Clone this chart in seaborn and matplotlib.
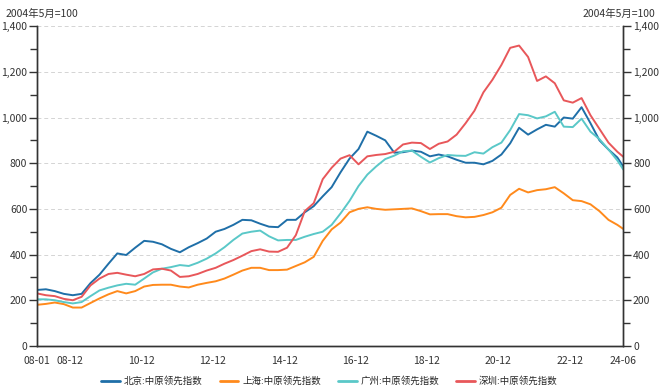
import pandas as pd
import numpy as np
import matplotlib
matplotlib.use("Agg")
import matplotlib.pyplot as plt
import matplotlib.dates as mdates
from matplotlib.ticker import FuncFormatter, MultipleLocator
import seaborn as sns

# quarterly readings, 2008-01 .. 2024-04, plus last point 2024-06
dates = list(pd.date_range("2008-01-01", "2024-04-01", freq="3MS")) + [pd.Timestamp("2024-06-01")]

beijing = [245, 248, 240, 228, 222, 228, 275, 312, 360, 405, 398, 430,
           460, 456, 445, 425, 410, 432, 450, 470, 500, 512, 530, 552,
           550, 535, 522, 520, 552, 552, 585, 612, 655, 695, 760, 820,
           862, 938, 920, 900, 846, 848, 855, 850, 830, 838, 830, 815,
           802, 802, 795, 810, 838, 887, 955, 925, 948, 968, 960, 1000,
           995, 1045, 975, 900, 860, 825, 785]
shanghai = [180, 184, 190, 183, 168, 168, 188, 208, 226, 240, 230, 240,
            260, 267, 268, 268, 260, 256, 268, 276, 283, 295, 312, 330,
            342, 342, 332, 332, 334, 350, 366, 390, 460, 510, 540, 585,
            600, 607, 600, 596, 598, 600, 602, 590, 576, 577, 577, 568,
            563, 565, 573, 585, 605, 661, 688, 672, 682, 686, 695, 668,
            638, 634, 620, 590, 552, 530, 512]
guangzhou = [204, 204, 200, 192, 186, 192, 218, 243, 255, 265, 272, 268,
             295, 322, 338, 345, 354, 350, 364, 382, 405, 432, 464, 492,
             500, 505, 480, 462, 464, 464, 478, 490, 500, 530, 580, 635,
             700, 750, 786, 818, 833, 852, 855, 828, 803, 822, 836, 833,
             832, 848, 842, 870, 890, 945, 1015, 1010, 996, 1005, 1025, 960,
             958, 995, 938, 905, 860, 812, 772]
shenzhen = [230, 222, 218, 206, 200, 215, 265, 295, 315, 320, 312, 305,
            315, 335, 338, 330, 302, 305, 315, 330, 342, 360, 376, 395,
            415, 423, 413, 412, 430, 485, 590, 625, 730, 780, 820, 835,
            795, 830, 836, 840, 850, 882, 890, 888, 862, 885, 895, 925,
            975, 1030, 1110, 1165, 1230, 1305, 1315, 1265, 1160, 1180, 1150, 1075,
            1065, 1085, 1010, 950, 890, 850, 828]

names = ["北京:中原领先指数", "上海:中原领先指数", "广州:中原领先指数", "深圳:中原领先指数"]
colors = ["#1f6fa8", "#ff8a1c", "#5ac8c8", "#e8575a"]

tick_dates = pd.to_datetime(["2008-01-01", "2008-12-01", "2010-12-01", "2012-12-01", "2014-12-01",
                             "2016-12-01", "2018-12-01", "2020-12-01", "2022-12-01", "2024-06-01"])
minor_dates = pd.to_datetime(["2009-12-01", "2011-12-01", "2013-12-01", "2015-12-01",
                              "2017-12-01", "2019-12-01", "2021-12-01", "2023-12-01"])

df = pd.DataFrame({"date": dates, names[0]: beijing, names[1]: shanghai,
                   names[2]: guangzhou, names[3]: shenzhen})
long = df.melt(id_vars="date", var_name="city", value_name="value")

sns.set_style("white")
plt.rcParams["font.family"] = ["Noto Sans CJK SC", "DejaVu Sans"]

fig = plt.figure(figsize=(6.61, 3.90), dpi=100)
ax = fig.add_axes([0.056, 0.113, 0.887, 0.820])

sns.lineplot(data=long, x="date", y="value", hue="city", hue_order=names,
             palette=colors, linewidth=1.4, ax=ax, legend=False)

ax.set_xlim(pd.Timestamp("2008-01-01"), pd.Timestamp("2024-06-01"))
ax.set_ylim(0, 1400)
ax.set_xlabel("")
ax.set_ylabel("")

fmt = FuncFormatter(lambda v, p: f"{v:,.0f}")
ax.yaxis.set_major_locator(MultipleLocator(200))
ax.yaxis.set_minor_locator(MultipleLocator(100))
ax.yaxis.set_major_formatter(fmt)
ax.grid(axis="y", which="major", color="#d4d4d4", linestyle=(0, (4, 3)), linewidth=0.7)

ax.set_xticks(tick_dates)
ax.set_xticklabels([d.strftime("%y-%m") for d in tick_dates])
ax.set_xticks(minor_dates, minor=True)

ax2 = ax.twinx()
ax2.set_ylim(0, 1400)
ax2.yaxis.set_major_locator(MultipleLocator(200))
ax2.yaxis.set_minor_locator(MultipleLocator(100))
ax2.yaxis.set_major_formatter(fmt)

for a in (ax, ax2):
    for s in a.spines.values():
        s.set_color("#333333")
        s.set_linewidth(1.0)
    a.spines["top"].set_visible(False)
    a.tick_params(which="both", direction="out", color="#333333", labelsize=7.5,
                  labelcolor="#333333", width=1.0)
    a.tick_params(which="major", length=6, pad=1)
    a.tick_params(which="minor", length=5)

ax.tick_params(axis="x", which="both", length=5, pad=2)

fig.text(0.008, 0.965, "2004年5月=100", fontsize=7.5, color="#333333", ha="left", va="center")
fig.text(0.992, 0.965, "2004年5月=100", fontsize=7.5, color="#333333", ha="right", va="center")

handles = [plt.Line2D([], [], color=c, linewidth=2) for c in colors]
fig.legend(handles, names, loc="center", bbox_to_anchor=(0.4985, 0.023), ncol=4,
           frameon=False, fontsize=6.8, handlelength=2.0, columnspacing=1.8, handletextpad=0.4)

fig.savefig("out.png", dpi=100)
